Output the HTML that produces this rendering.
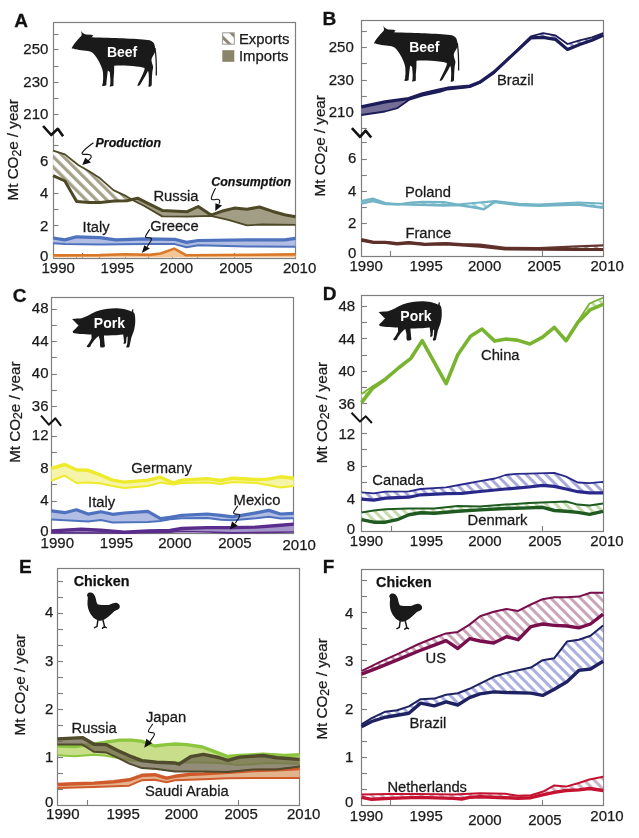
<!DOCTYPE html>
<html><head><meta charset="utf-8"><style>
html,body{margin:0;padding:0;background:#fff;}
svg{display:block;font-family:"Liberation Sans", sans-serif;will-change:transform;}
text{stroke:#1a1a1a;stroke-width:0.25px;}
text[fill="#fff"]{stroke:none;}
</style></head><body>
<svg width="639" height="838" viewBox="0 0 639 838" xmlns="http://www.w3.org/2000/svg">
<defs><pattern id="hA" patternUnits="userSpaceOnUse" x="-1.75" y="0" width="7.3" height="7.3" patternTransform="rotate(-45)"><rect x="0" y="0" width="7.3" height="7.3" fill="#fff"/><rect x="0" y="0" width="3.2" height="7.3" fill="#a5a189"/></pattern><pattern id="hL" patternUnits="userSpaceOnUse" x="3.05" y="0" width="9.05" height="9.05" patternTransform="rotate(-45)"><rect x="0" y="0" width="9.05" height="9.05" fill="#fff"/><rect x="0" y="0" width="2.9" height="9.05" fill="#8a8468"/></pattern><pattern id="hBr" patternUnits="userSpaceOnUse" x="0.0" y="0" width="7.0" height="7.0" patternTransform="rotate(-45)"><rect x="0" y="0" width="7.0" height="7.0" fill="#fff"/><rect x="0" y="0" width="3.0" height="7.0" fill="#9294c4"/></pattern><pattern id="hPo" patternUnits="userSpaceOnUse" x="0.0" y="0" width="7.0" height="7.0" patternTransform="rotate(-45)"><rect x="0" y="0" width="7.0" height="7.0" fill="#fff"/><rect x="0" y="0" width="3.0" height="7.0" fill="#a8d8e4"/></pattern><pattern id="hFr" patternUnits="userSpaceOnUse" x="0.0" y="0" width="7.0" height="7.0" patternTransform="rotate(-45)"><rect x="0" y="0" width="7.0" height="7.0" fill="#fff"/><rect x="0" y="0" width="3.0" height="7.0" fill="#b99d97"/></pattern><pattern id="hGe" patternUnits="userSpaceOnUse" x="0.0" y="0" width="7.0" height="7.0" patternTransform="rotate(-45)"><rect x="0" y="0" width="7.0" height="7.0" fill="#fff"/><rect x="0" y="0" width="3.0" height="7.0" fill="#f4f0a0"/></pattern><pattern id="hCI" patternUnits="userSpaceOnUse" x="0.0" y="0" width="7.0" height="7.0" patternTransform="rotate(-45)"><rect x="0" y="0" width="7.0" height="7.0" fill="#fff"/><rect x="0" y="0" width="3.0" height="7.0" fill="#a9b8e4"/></pattern><pattern id="hMx" patternUnits="userSpaceOnUse" x="0.0" y="0" width="7.0" height="7.0" patternTransform="rotate(-45)"><rect x="0" y="0" width="7.0" height="7.0" fill="#fff"/><rect x="0" y="0" width="3.0" height="7.0" fill="#a596c9"/></pattern><pattern id="hCh" patternUnits="userSpaceOnUse" x="0.0" y="0" width="7.0" height="7.0" patternTransform="rotate(-45)"><rect x="0" y="0" width="7.0" height="7.0" fill="#fff"/><rect x="0" y="0" width="3.0" height="7.0" fill="#c2e0a2"/></pattern><pattern id="hCa" patternUnits="userSpaceOnUse" x="0.0" y="0" width="7.0" height="7.0" patternTransform="rotate(-45)"><rect x="0" y="0" width="7.0" height="7.0" fill="#fff"/><rect x="0" y="0" width="3.0" height="7.0" fill="#a9acd9"/></pattern><pattern id="hDk" patternUnits="userSpaceOnUse" x="0.0" y="0" width="7.0" height="7.0" patternTransform="rotate(-45)"><rect x="0" y="0" width="7.0" height="7.0" fill="#fff"/><rect x="0" y="0" width="3.0" height="7.0" fill="#c3dbab"/></pattern><pattern id="hSa" patternUnits="userSpaceOnUse" x="0.0" y="0" width="7.0" height="7.0" patternTransform="rotate(-45)"><rect x="0" y="0" width="7.0" height="7.0" fill="#fff"/><rect x="0" y="0" width="3.0" height="7.0" fill="#f0b188"/></pattern><pattern id="hJp" patternUnits="userSpaceOnUse" x="0.0" y="0" width="7.0" height="7.0" patternTransform="rotate(-45)"><rect x="0" y="0" width="7.0" height="7.0" fill="#fff"/><rect x="0" y="0" width="3.0" height="7.0" fill="#c9e39e"/></pattern><pattern id="hEr" patternUnits="userSpaceOnUse" x="0.0" y="0" width="7.0" height="7.0" patternTransform="rotate(-45)"><rect x="0" y="0" width="7.0" height="7.0" fill="#fff"/><rect x="0" y="0" width="3.0" height="7.0" fill="#8d8873"/></pattern><pattern id="hUS" patternUnits="userSpaceOnUse" x="0.0" y="0" width="7.0" height="7.0" patternTransform="rotate(-45)"><rect x="0" y="0" width="7.0" height="7.0" fill="#fff"/><rect x="0" y="0" width="3.0" height="7.0" fill="#c9a5b8"/></pattern><pattern id="hFB" patternUnits="userSpaceOnUse" x="0.0" y="0" width="7.0" height="7.0" patternTransform="rotate(-45)"><rect x="0" y="0" width="7.0" height="7.0" fill="#fff"/><rect x="0" y="0" width="3.0" height="7.0" fill="#aab0e0"/></pattern><pattern id="hNL" patternUnits="userSpaceOnUse" x="0.0" y="0" width="7.0" height="7.0" patternTransform="rotate(-45)"><rect x="0" y="0" width="7.0" height="7.0" fill="#fff"/><rect x="0" y="0" width="3.0" height="7.0" fill="#cbb5c5"/></pattern></defs>
<rect width="639" height="838" fill="#fff"/>
<text transform="translate(14.2,27) scale(1.09,1)" x="0" y="0" font-size="17.5" font-weight="bold" fill="#111">A</text>
<rect x="53.5" y="22.5" width="242.0" height="236.0" fill="none" stroke="#7e7e7e" stroke-width="1.2"/>
<line x1="53" y1="34.5" x2="58.5" y2="34.5" stroke="#7e7e7e" stroke-width="1.1"/>
<line x1="53" y1="49.5" x2="58.5" y2="49.5" stroke="#7e7e7e" stroke-width="1.1"/>
<line x1="53" y1="66.5" x2="58.5" y2="66.5" stroke="#7e7e7e" stroke-width="1.1"/>
<line x1="53" y1="82.5" x2="58.5" y2="82.5" stroke="#7e7e7e" stroke-width="1.1"/>
<line x1="53" y1="98.5" x2="58.5" y2="98.5" stroke="#7e7e7e" stroke-width="1.1"/>
<line x1="53" y1="114.5" x2="58.5" y2="114.5" stroke="#7e7e7e" stroke-width="1.1"/>
<line x1="53" y1="145.5" x2="58.5" y2="145.5" stroke="#7e7e7e" stroke-width="1.1"/>
<line x1="53" y1="161.5" x2="58.5" y2="161.5" stroke="#7e7e7e" stroke-width="1.1"/>
<line x1="53" y1="177.5" x2="58.5" y2="177.5" stroke="#7e7e7e" stroke-width="1.1"/>
<line x1="53" y1="193.5" x2="58.5" y2="193.5" stroke="#7e7e7e" stroke-width="1.1"/>
<line x1="53" y1="209.5" x2="58.5" y2="209.5" stroke="#7e7e7e" stroke-width="1.1"/>
<line x1="53" y1="225.5" x2="58.5" y2="225.5" stroke="#7e7e7e" stroke-width="1.1"/>
<line x1="53" y1="242.5" x2="58.5" y2="242.5" stroke="#7e7e7e" stroke-width="1.1"/>
<line x1="82.5" y1="258.5" x2="82.5" y2="253.0" stroke="#7e7e7e" stroke-width="1.1"/>
<line x1="234.5" y1="258.5" x2="234.5" y2="253.0" stroke="#7e7e7e" stroke-width="1.1"/>
<line x1="76.5" y1="258.5" x2="76.5" y2="255.5" stroke="#7e7e7e" stroke-width="1.1"/>
<line x1="99.5" y1="258.5" x2="99.5" y2="255.5" stroke="#7e7e7e" stroke-width="1.1"/>
<line x1="125.5" y1="258.5" x2="125.5" y2="255.5" stroke="#7e7e7e" stroke-width="1.1"/>
<line x1="148.5" y1="258.5" x2="148.5" y2="255.5" stroke="#7e7e7e" stroke-width="1.1"/>
<line x1="172.5" y1="258.5" x2="172.5" y2="255.5" stroke="#7e7e7e" stroke-width="1.1"/>
<line x1="197.5" y1="258.5" x2="197.5" y2="255.5" stroke="#7e7e7e" stroke-width="1.1"/>
<text x="48.400000000000006" y="54.45" font-size="15" text-anchor="end" font-weight="normal" font-style="normal" fill="#1a1a1a" >250</text>
<text x="48.400000000000006" y="86.7" font-size="15" text-anchor="end" font-weight="normal" font-style="normal" fill="#1a1a1a" >230</text>
<text x="48.400000000000006" y="119.10000000000001" font-size="15" text-anchor="end" font-weight="normal" font-style="normal" fill="#1a1a1a" >210</text>
<text x="48.400000000000006" y="166.2" font-size="15" text-anchor="end" font-weight="normal" font-style="normal" fill="#1a1a1a" >6</text>
<text x="48.400000000000006" y="198.0" font-size="15" text-anchor="end" font-weight="normal" font-style="normal" fill="#1a1a1a" >4</text>
<text x="48.400000000000006" y="230.5" font-size="15" text-anchor="end" font-weight="normal" font-style="normal" fill="#1a1a1a" >2</text>
<text x="48.400000000000006" y="261.2" font-size="15" text-anchor="end" font-weight="normal" font-style="normal" fill="#1a1a1a" >0</text>
<text x="58.2" y="273.1" font-size="15" text-anchor="middle" font-weight="normal" font-style="normal" fill="#1a1a1a" >1990</text>
<text x="117.3" y="273.1" font-size="15" text-anchor="middle" font-weight="normal" font-style="normal" fill="#1a1a1a" >1995</text>
<text x="176.5" y="273.1" font-size="15" text-anchor="middle" font-weight="normal" font-style="normal" fill="#1a1a1a" >2000</text>
<text x="236" y="273.1" font-size="15" text-anchor="middle" font-weight="normal" font-style="normal" fill="#1a1a1a" >2005</text>
<text x="299.6" y="273.1" font-size="15" text-anchor="middle" font-weight="normal" font-style="normal" fill="#1a1a1a" >2010</text>
<text transform="translate(18.0,149.8) rotate(-90)" font-size="15.2" text-anchor="middle" fill="#1a1a1a">Mt CO<tspan font-size="12.2" dy="2.6">2</tspan><tspan dy="-2.6">e / year</tspan></text>
<polyline points="43.1,126.0 51.2,135.0 57.8,128.8 63.1,136.2" fill="none" stroke="#111" stroke-width="2.6" stroke-linejoin="round" stroke-linecap="butt" stroke-linecap="round"/>
<g transform="translate(0,0)"><path d="M80.6,29.9 C81.4,32.0 83.2,33.8 85.8,34.4 L91.3,34.7 L93.4,35.6 L91.6,37.2 C102,37.6 115,38.0 122.6,38.3 C132,38.8 142,39.3 147.6,39.9 C150.5,40.2 152.6,41.2 153.8,43 C155,45.5 155.5,49 155.2,51.5 C154.5,54.5 152,56.5 151.5,59.3 C151.2,61.5 152.6,64.5 153.2,67 L152.3,72 L151.9,78.2 L151.7,85.2 C150.9,86.6 149.3,86.8 148.3,86.6 L148.7,84.5 L148.9,78.2 L148.6,73 L148.0,70.8 L145.6,75.5 L142.6,80.5 L140.3,84.5 C139.7,85.6 138.6,86.0 137.3,85.8 L137.7,84.6 L140.2,79.5 L142.6,74.5 L144.4,70 L144.6,68.0 C140,66.6 133,66.0 128.9,65.8 C124,65.6 119,65.2 114.2,65.8 L114.1,72 L113.5,79.8 L113.5,85.6 C112.6,86.5 111,86.5 109.6,86.4 L110.3,84.2 L110.4,79.8 L109.8,72 L107.8,70.6 L107.1,76.6 L106.5,82 L106.3,85.2 C105.2,86.0 103.4,86.0 101.8,85.8 L102.8,83.6 L103.2,78.2 L103.0,72.5 L102.4,69.8 C101.8,67.5 100.2,63.5 98.2,60.2 C96.5,57.3 94.5,54.6 92.2,52.6 C89.5,50.8 86.5,50.6 83.5,50.4 C80.5,50.2 77.5,49.8 75.6,49.3 C73.8,49 72.5,48.7 71.6,48.2 C72.4,46.5 74.5,43.5 76.8,40.8 C78.5,38.8 80.2,37.0 81.4,35.8 C81.9,34.2 81.6,32.2 80.6,29.9 Z" fill="#1a1a1a"/><path d="M155.0,48 C156.0,55 156.5,64 156.3,75.5" fill="none" stroke="#1a1a1a" stroke-width="1.3"/><text x="106.9" y="56.9" font-size="14" font-weight="bold" fill="#fff">Beef</text></g>
<rect x="222.6" y="32.8" width="11.7" height="11.4" fill="url(#hL)" stroke="#9a9a9a" stroke-width="1"/>
<rect x="222.3" y="50.2" width="12.0" height="11.6" fill="#8a8468"/>
<text x="238.9" y="43.6" font-size="14.9" text-anchor="start" font-weight="normal" font-style="normal" fill="#1a1a1a" >Exports</text>
<text x="238.9" y="60.9" font-size="14.9" text-anchor="start" font-weight="normal" font-style="normal" fill="#1a1a1a" >Imports</text>
<polygon points="53.1,257.0 100.0,257.0 125.0,257.0 150.0,257.0 160.6,257.0 174.3,257.0 186.0,257.0 295.5,257.0 295.5,254.4 186.0,255.2 174.3,248.6 160.6,253.5 150.0,254.9 125.0,254.3 100.0,255.1 53.1,255.4" fill="#f3c594" />
<polyline points="53.1,257.0 295.5,257.0" fill="none" stroke="#f3c594" stroke-width="0.8" stroke-linejoin="round" stroke-linecap="butt" />
<polyline points="53.1,255.4 100.0,255.1 125.0,254.3 150.0,254.9 160.6,253.5 174.3,248.6 186.0,255.2 295.5,254.4" fill="none" stroke="#d9782a" stroke-width="2.6" stroke-linejoin="round" stroke-linecap="butt" />
<polygon points="53.1,243.3 64.9,244.1 65.0,244.1 76.6,244.3 100.0,244.6 115.7,244.4 145.0,244.1 174.7,244.1 186.5,247.2 198.2,245.2 247.0,246.4 284.5,246.6 295.5,246.7 295.5,238.3 284.5,239.9 247.0,239.9 198.2,240.5 186.5,242.4 174.7,239.3 145.0,238.8 115.7,239.9 100.0,237.7 76.6,236.8 65.0,239.9 64.9,239.9 53.1,238.0" fill="#b1bde2" />
<polyline points="53.1,243.3 65.0,244.1 100.0,244.6 145.0,244.1 174.7,244.1 186.5,247.2 198.2,245.2 247.0,246.4 295.5,246.7" fill="none" stroke="#4f72bf" stroke-width="2.0" stroke-linejoin="round" stroke-linecap="butt" />
<polyline points="53.1,238.0 64.9,239.9 76.6,236.8 100.0,237.7 115.7,239.9 145.0,238.8 174.7,239.3 186.5,242.4 198.2,240.5 247.0,239.9 284.5,239.9 295.5,238.3" fill="none" stroke="#4f72bf" stroke-width="3.2" stroke-linejoin="round" stroke-linecap="butt" />
<polygon points="53.1,150.6 64.9,154.4 76.6,163.7 78.2,165.0 89.1,171.3 100.1,178.3 113.4,190.1 114.2,190.5 125.1,195.6 126.7,196.6 131.7,199.6 131.7,199.6 126.7,200.8 125.1,200.8 114.2,201.1 113.4,201.2 100.1,202.6 89.1,202.6 78.2,201.6 76.6,201.5 64.9,181.0 53.1,175.7" fill="url(#hA)" />
<polygon points="131.7,199.6 132.9,200.3 137.6,202.6 143.9,205.7 145.0,206.3 162.2,216.4 187.3,216.7 198.2,216.3 210.7,215.9 211.0,216.0 223.5,218.8 228.2,219.8 234.4,221.6 247.0,225.3 259.5,224.7 262.6,224.5 272.0,224.6 284.5,224.7 295.5,224.8 295.5,216.7 284.5,214.8 272.0,211.2 262.6,208.0 259.5,207.0 247.0,209.2 234.4,208.1 228.2,209.6 223.5,210.7 211.0,215.1 210.7,214.9 198.2,206.5 187.3,211.7 162.2,210.4 145.0,201.8 143.9,201.3 137.6,198.2 132.9,199.3 131.7,199.6" fill="#a29d85" />
<polyline points="53.1,150.6 64.9,154.4 78.2,165.0 89.1,171.3 100.1,178.3 113.4,190.1 125.1,195.6 132.9,200.3 143.9,205.7 162.2,216.4 187.3,216.7 210.7,215.9 228.2,219.8 247.0,225.3 262.6,224.5 295.5,224.8" fill="none" stroke="#4d4926" stroke-width="1.8" stroke-linejoin="round" stroke-linecap="butt" />
<polyline points="53.1,175.7 64.9,181.0 76.6,201.5 89.1,202.6 100.1,202.6 114.2,201.1 126.7,200.8 137.6,198.2 145.0,201.8 162.2,210.4 187.3,211.7 198.2,206.5 211.0,215.1 223.5,210.7 234.4,208.1 247.0,209.2 259.5,207.0 272.0,211.2 284.5,214.8 295.5,216.7" fill="none" stroke="#4d4926" stroke-width="3.0" stroke-linejoin="round" stroke-linecap="butt" />
<text x="95.6" y="146.9" font-size="12.4" text-anchor="start" font-weight="bold" font-style="italic" fill="#111" >Production</text>
<text x="211.3" y="185.7" font-size="12.4" text-anchor="start" font-weight="bold" font-style="italic" fill="#111" >Consumption</text>
<text transform="translate(153.40,200.50) scale(1.07,1)" font-size="13.8" font-weight="normal" fill="#1a1a1a">Russia</text>
<text transform="translate(150.30,230.60) scale(1.07,1)" font-size="13.8" font-weight="normal" fill="#1a1a1a">Greece</text>
<text transform="translate(82.60,231.80) scale(1.07,1)" font-size="13.8" font-weight="normal" fill="#1a1a1a">Italy</text>
<path d="M93.4,142.8 C89,146 84,150 82.3,152.6 C81,155 84.5,154.3 87.5,154.4 C91.5,154.5 92,156.5 90.5,158.5 L87.6,161.3" fill="none" stroke="#111" stroke-width="1.1"/>
<polygon points="82.2,164.9 85.3,157.8 91.0,162.6" fill="#111" />
<text transform="translate(322.6,24.8) scale(1.09,1)" x="0" y="0" font-size="17.5" font-weight="bold" fill="#111">B</text>
<rect x="361.5" y="20.5" width="242.0" height="236.0" fill="none" stroke="#7e7e7e" stroke-width="1.2"/>
<line x1="361.3" y1="31.5" x2="366.8" y2="31.5" stroke="#7e7e7e" stroke-width="1.1"/>
<line x1="361.3" y1="47.5" x2="366.8" y2="47.5" stroke="#7e7e7e" stroke-width="1.1"/>
<line x1="361.3" y1="63.5" x2="366.8" y2="63.5" stroke="#7e7e7e" stroke-width="1.1"/>
<line x1="361.3" y1="80.5" x2="366.8" y2="80.5" stroke="#7e7e7e" stroke-width="1.1"/>
<line x1="361.3" y1="96.5" x2="366.8" y2="96.5" stroke="#7e7e7e" stroke-width="1.1"/>
<line x1="361.3" y1="112.5" x2="366.8" y2="112.5" stroke="#7e7e7e" stroke-width="1.1"/>
<line x1="361.3" y1="128.5" x2="366.8" y2="128.5" stroke="#7e7e7e" stroke-width="1.1"/>
<line x1="361.3" y1="142.5" x2="366.8" y2="142.5" stroke="#7e7e7e" stroke-width="1.1"/>
<line x1="361.3" y1="159.5" x2="366.8" y2="159.5" stroke="#7e7e7e" stroke-width="1.1"/>
<line x1="361.3" y1="175.5" x2="366.8" y2="175.5" stroke="#7e7e7e" stroke-width="1.1"/>
<line x1="361.3" y1="191.5" x2="366.8" y2="191.5" stroke="#7e7e7e" stroke-width="1.1"/>
<line x1="361.3" y1="207.5" x2="366.8" y2="207.5" stroke="#7e7e7e" stroke-width="1.1"/>
<line x1="361.3" y1="223.5" x2="366.8" y2="223.5" stroke="#7e7e7e" stroke-width="1.1"/>
<line x1="361.3" y1="239.5" x2="366.8" y2="239.5" stroke="#7e7e7e" stroke-width="1.1"/>
<line x1="390.5" y1="256.5" x2="390.5" y2="251.0" stroke="#7e7e7e" stroke-width="1.1"/>
<line x1="542.5" y1="256.5" x2="542.5" y2="251.0" stroke="#7e7e7e" stroke-width="1.1"/>
<text x="353.8" y="52.2" font-size="15" text-anchor="end" font-weight="normal" font-style="normal" fill="#1a1a1a" >250</text>
<text x="353.8" y="84.7" font-size="15" text-anchor="end" font-weight="normal" font-style="normal" fill="#1a1a1a" >230</text>
<text x="353.8" y="117.2" font-size="15" text-anchor="end" font-weight="normal" font-style="normal" fill="#1a1a1a" >210</text>
<text x="356.4" y="163.29999999999998" font-size="15" text-anchor="end" font-weight="normal" font-style="normal" fill="#1a1a1a" >6</text>
<text x="356.4" y="195.5" font-size="15" text-anchor="end" font-weight="normal" font-style="normal" fill="#1a1a1a" >4</text>
<text x="356.4" y="227.6" font-size="15" text-anchor="end" font-weight="normal" font-style="normal" fill="#1a1a1a" >2</text>
<text x="356.4" y="257.9" font-size="15" text-anchor="end" font-weight="normal" font-style="normal" fill="#1a1a1a" >0</text>
<text x="366.2" y="270.7" font-size="15" text-anchor="middle" font-weight="normal" font-style="normal" fill="#1a1a1a" >1990</text>
<text x="426.1" y="270.7" font-size="15" text-anchor="middle" font-weight="normal" font-style="normal" fill="#1a1a1a" >1995</text>
<text x="484.6" y="270.7" font-size="15" text-anchor="middle" font-weight="normal" font-style="normal" fill="#1a1a1a" >2000</text>
<text x="544.3" y="270.7" font-size="15" text-anchor="middle" font-weight="normal" font-style="normal" fill="#1a1a1a" >2005</text>
<text x="607.2" y="270.7" font-size="15" text-anchor="middle" font-weight="normal" font-style="normal" fill="#1a1a1a" >2010</text>
<text transform="translate(324.59999999999997,145.8) rotate(-90)" font-size="15.2" text-anchor="middle" fill="#1a1a1a">Mt CO<tspan font-size="12.2" dy="2.6">2</tspan><tspan dy="-2.6">e / year</tspan></text>
<polyline points="351.9,128.1 360.0,136.9 365.6,130.6 371.2,137.5" fill="none" stroke="#111" stroke-width="2.6" stroke-linejoin="round" stroke-linecap="butt" stroke-linecap="round"/>
<g transform="translate(302.3,-5)"><path d="M80.6,29.9 C81.4,32.0 83.2,33.8 85.8,34.4 L91.3,34.7 L93.4,35.6 L91.6,37.2 C102,37.6 115,38.0 122.6,38.3 C132,38.8 142,39.3 147.6,39.9 C150.5,40.2 152.6,41.2 153.8,43 C155,45.5 155.5,49 155.2,51.5 C154.5,54.5 152,56.5 151.5,59.3 C151.2,61.5 152.6,64.5 153.2,67 L152.3,72 L151.9,78.2 L151.7,85.2 C150.9,86.6 149.3,86.8 148.3,86.6 L148.7,84.5 L148.9,78.2 L148.6,73 L148.0,70.8 L145.6,75.5 L142.6,80.5 L140.3,84.5 C139.7,85.6 138.6,86.0 137.3,85.8 L137.7,84.6 L140.2,79.5 L142.6,74.5 L144.4,70 L144.6,68.0 C140,66.6 133,66.0 128.9,65.8 C124,65.6 119,65.2 114.2,65.8 L114.1,72 L113.5,79.8 L113.5,85.6 C112.6,86.5 111,86.5 109.6,86.4 L110.3,84.2 L110.4,79.8 L109.8,72 L107.8,70.6 L107.1,76.6 L106.5,82 L106.3,85.2 C105.2,86.0 103.4,86.0 101.8,85.8 L102.8,83.6 L103.2,78.2 L103.0,72.5 L102.4,69.8 C101.8,67.5 100.2,63.5 98.2,60.2 C96.5,57.3 94.5,54.6 92.2,52.6 C89.5,50.8 86.5,50.6 83.5,50.4 C80.5,50.2 77.5,49.8 75.6,49.3 C73.8,49 72.5,48.7 71.6,48.2 C72.4,46.5 74.5,43.5 76.8,40.8 C78.5,38.8 80.2,37.0 81.4,35.8 C81.9,34.2 81.6,32.2 80.6,29.9 Z" fill="#1a1a1a"/><path d="M155.0,48 C156.0,55 156.5,64 156.3,75.5" fill="none" stroke="#1a1a1a" stroke-width="1.3"/><text x="106.9" y="56.9" font-size="14" font-weight="bold" fill="#fff">Beef</text></g>
<polygon points="361.3,239.2 373.7,241.8 385.4,241.8 397.2,243.2 408.9,242.2 424.6,243.8 446.1,243.2 461.7,244.2 480.0,244.6 505.4,247.9 538.7,248.1 577.8,246.3 603.2,245.3 603.2,249.6 577.8,249.5 538.7,249.3 505.4,249.0 480.0,246.3 461.7,245.0 446.1,244.0 424.6,244.6 408.9,243.0 397.2,244.0 385.4,242.6 373.7,242.6 361.3,240.2" fill="url(#hFr)" />
<polyline points="361.3,239.2 373.7,241.8 385.4,241.8 397.2,243.2 408.9,242.2 424.6,243.8 446.1,243.2 461.7,244.2 480.0,244.6 505.4,247.9 538.7,248.1 577.8,246.3 603.2,245.3" fill="none" stroke="#653631" stroke-width="2.2" stroke-linejoin="round" stroke-linecap="butt" />
<polyline points="361.3,240.2 373.7,242.6 385.4,242.6 397.2,244.0 408.9,243.0 424.6,244.6 446.1,244.0 461.7,245.0 480.0,246.3 505.4,249.0 538.7,249.3 577.8,249.5 603.2,249.6" fill="none" stroke="#5e2e28" stroke-width="3.0" stroke-linejoin="round" stroke-linecap="butt" />
<polygon points="361.3,201.1 372.7,198.6 385.4,203.1 393.8,204.1 393.8,204.1 385.4,203.9 372.7,201.1 361.3,203.5" fill="url(#hPo)" />
<polygon points="393.8,204.1 397.2,204.5 399.1,204.2 399.1,204.2 397.2,204.2 393.8,204.1" fill="#a8d8e4" />
<polygon points="399.1,204.2 410.9,202.5 422.6,201.9 444.1,202.1 457.8,204.5 470.0,203.4 480.0,202.5 483.9,202.1 494.7,201.1 519.1,203.9 538.7,204.5 577.8,202.5 603.2,203.5 603.2,207.6 577.8,204.5 538.7,205.8 519.1,205.0 494.7,201.9 483.9,209.3 480.0,208.4 470.0,206.8 457.8,205.0 444.1,205.4 422.6,204.8 410.9,204.5 399.1,204.2" fill="url(#hPo)" />
<polyline points="361.3,201.1 372.7,198.6 385.4,203.1 397.2,204.5 410.9,202.5 422.6,201.9 444.1,202.1 457.8,204.5 480.0,202.5 494.7,201.1 519.1,203.9 538.7,204.5 577.8,202.5 603.2,203.5" fill="none" stroke="#72b4c6" stroke-width="2.2" stroke-linejoin="round" stroke-linecap="butt" />
<polyline points="361.3,203.5 372.7,201.1 385.4,203.9 410.9,204.5 444.1,205.4 457.8,205.0 470.0,206.8 480.0,208.4 483.9,209.3 494.7,201.9 519.1,205.0 538.7,205.8 577.8,204.5 603.2,207.6" fill="none" stroke="#72b4c6" stroke-width="2.6" stroke-linejoin="round" stroke-linecap="butt" />
<polygon points="361.3,115.0 385.0,111.5 397.5,108.1 408.8,100.0 422.5,95.6 439.9,91.9 447.5,89.5 469.9,87.1 480.0,83.0 494.2,72.9 508.3,58.8 508.3,58.8 494.2,71.9 480.0,82.0 469.9,86.1 447.5,88.2 439.9,89.8 422.5,93.8 408.8,98.5 397.5,100.1 385.0,101.9 361.3,106.9" fill="#746e96" />
<polygon points="508.3,58.8 530.9,36.3 543.1,33.2 555.3,35.3 567.5,44.0 579.7,40.3 591.9,37.3 603.2,33.2 603.2,35.3 591.9,40.3 579.7,44.4 567.5,49.5 555.3,39.3 543.1,37.3 530.9,37.9 508.3,58.8" fill="url(#hBr)" />
<polyline points="361.3,115.0 385.0,111.5 397.5,108.1 408.8,100.0 422.5,95.6 439.9,91.9 447.5,89.5 469.9,87.1 480.0,83.0 494.2,72.9 530.9,36.3 543.1,33.2 555.3,35.3 567.5,44.0 579.7,40.3 591.9,37.3 603.2,33.2" fill="none" stroke="#1c1c58" stroke-width="1.8" stroke-linejoin="round" stroke-linecap="butt" />
<polyline points="361.3,106.9 385.0,101.9 408.8,98.5 422.5,93.8 439.9,89.8 447.5,88.2 469.9,86.1 480.0,82.0 494.2,71.9 530.9,37.9 543.1,37.3 555.3,39.3 567.5,49.5 579.7,44.4 591.9,40.3 603.2,35.3" fill="none" stroke="#1c1c58" stroke-width="3.2" stroke-linejoin="round" stroke-linecap="butt" />
<text transform="translate(496.90,85.40) scale(1.07,1)" font-size="13.8" font-weight="normal" fill="#1a1a1a">Brazil</text>
<text transform="translate(405.00,196.50) scale(1.07,1)" font-size="13.8" font-weight="normal" fill="#1a1a1a">Poland</text>
<text transform="translate(405.40,237.60) scale(1.07,1)" font-size="13.8" font-weight="normal" fill="#1a1a1a">France</text>
<text transform="translate(12.8,302.3) scale(1.09,1)" x="0" y="0" font-size="17.5" font-weight="bold" fill="#111">C</text>
<rect x="51.5" y="297.5" width="242.0" height="236.0" fill="none" stroke="#7e7e7e" stroke-width="1.2"/>
<line x1="51.3" y1="309.5" x2="56.8" y2="309.5" stroke="#7e7e7e" stroke-width="1.1"/>
<line x1="51.3" y1="325.5" x2="56.8" y2="325.5" stroke="#7e7e7e" stroke-width="1.1"/>
<line x1="51.3" y1="341.5" x2="56.8" y2="341.5" stroke="#7e7e7e" stroke-width="1.1"/>
<line x1="51.3" y1="357.5" x2="56.8" y2="357.5" stroke="#7e7e7e" stroke-width="1.1"/>
<line x1="51.3" y1="374.5" x2="56.8" y2="374.5" stroke="#7e7e7e" stroke-width="1.1"/>
<line x1="51.3" y1="390.5" x2="56.8" y2="390.5" stroke="#7e7e7e" stroke-width="1.1"/>
<line x1="51.3" y1="406.5" x2="56.8" y2="406.5" stroke="#7e7e7e" stroke-width="1.1"/>
<line x1="51.3" y1="436.5" x2="56.8" y2="436.5" stroke="#7e7e7e" stroke-width="1.1"/>
<line x1="51.3" y1="452.5" x2="56.8" y2="452.5" stroke="#7e7e7e" stroke-width="1.1"/>
<line x1="51.3" y1="468.5" x2="56.8" y2="468.5" stroke="#7e7e7e" stroke-width="1.1"/>
<line x1="51.3" y1="484.5" x2="56.8" y2="484.5" stroke="#7e7e7e" stroke-width="1.1"/>
<line x1="51.3" y1="501.5" x2="56.8" y2="501.5" stroke="#7e7e7e" stroke-width="1.1"/>
<line x1="51.3" y1="517.5" x2="56.8" y2="517.5" stroke="#7e7e7e" stroke-width="1.1"/>
<line x1="81.5" y1="533.5" x2="81.5" y2="528.0" stroke="#7e7e7e" stroke-width="1.1"/>
<line x1="232.5" y1="533.5" x2="232.5" y2="528.0" stroke="#7e7e7e" stroke-width="1.1"/>
<text x="48.5" y="312.9" font-size="15" text-anchor="end" font-weight="normal" font-style="normal" fill="#1a1a1a" >48</text>
<text x="48.5" y="345.7" font-size="15" text-anchor="end" font-weight="normal" font-style="normal" fill="#1a1a1a" >44</text>
<text x="48.5" y="378.09999999999997" font-size="15" text-anchor="end" font-weight="normal" font-style="normal" fill="#1a1a1a" >40</text>
<text x="48.5" y="410.5" font-size="15" text-anchor="end" font-weight="normal" font-style="normal" fill="#1a1a1a" >36</text>
<text x="48.5" y="440.2" font-size="15" text-anchor="end" font-weight="normal" font-style="normal" fill="#1a1a1a" >12</text>
<text x="48.5" y="472.7" font-size="15" text-anchor="end" font-weight="normal" font-style="normal" fill="#1a1a1a" >8</text>
<text x="48.5" y="505.2" font-size="15" text-anchor="end" font-weight="normal" font-style="normal" fill="#1a1a1a" >4</text>
<text x="48.5" y="535.9000000000001" font-size="15" text-anchor="end" font-weight="normal" font-style="normal" fill="#1a1a1a" >0</text>
<text x="57.3" y="548.0" font-size="15" text-anchor="middle" font-weight="normal" font-style="normal" fill="#1a1a1a" >1990</text>
<text x="116.5" y="548.0" font-size="15" text-anchor="middle" font-weight="normal" font-style="normal" fill="#1a1a1a" >1995</text>
<text x="174.9" y="548.0" font-size="15" text-anchor="middle" font-weight="normal" font-style="normal" fill="#1a1a1a" >2000</text>
<text x="234.9" y="548.0" font-size="15" text-anchor="middle" font-weight="normal" font-style="normal" fill="#1a1a1a" >2005</text>
<text x="299.2" y="550.0" font-size="15" text-anchor="middle" font-weight="normal" font-style="normal" fill="#1a1a1a" >2010</text>
<text transform="translate(19.8,412.2) rotate(-90)" font-size="15.2" text-anchor="middle" fill="#1a1a1a">Mt CO<tspan font-size="12.2" dy="2.6">2</tspan><tspan dy="-2.6">e / year</tspan></text>
<polyline points="41.0,415.7 48.8,424.7 55.4,418.3 61.1,425.9" fill="none" stroke="#111" stroke-width="2.0" stroke-linejoin="round" stroke-linecap="butt" stroke-linecap="round"/>
<g transform="translate(0,0)"><path d="M72.0,319.0 C76,318.5 79,318.6 81.5,318.2 C86,316.8 90,314.5 96,311.5 C103,309 110,308.2 117,308.3 C124,308.7 128.5,310 131.6,311.8 L132.3,309.2 L133.4,309.6 L133.2,312 L134.5,313.4 C135.8,318 135.5,326 133.6,331.5 L131.4,337.5 L130.0,343.8 L129.5,346.5 C129.2,347.4 127.6,347.7 126.6,347.4 C126.0,347.0 126.5,345.8 127.2,344.2 L127.6,340 L127.6,336.5 L126.6,337 L126.3,340 L126.0,343 C125.6,343.8 124.4,343.9 123.4,343.4 L124.0,341.5 L123.6,337.5 L123.2,334.6 C118,335.2 110,335.8 103.9,335.4 L104.2,339.5 L104.6,343.8 L105.0,346.2 C104.2,347.6 102.2,347.7 100.6,347.4 L100.0,345.8 L100.0,341 L98.8,336.0 L96.8,337.4 L94.2,340.2 L91.2,344.6 L90.4,346.6 C89.2,347.7 87.4,347.6 86.6,346.6 C87.2,345.2 88.4,344.2 89.2,342.8 L91.6,338.6 L91.4,334.6 C88,334.2 84,334.0 80,333.9 C77,333.8 75,333.4 73.2,333.0 L72.6,331.4 C74.5,329.5 77,327 78.6,325.4 C76.5,323.5 74,321 72.0,319.0 Z" fill="#1a1a1a"/><text x="93.8" y="328.0" font-size="14" font-weight="bold" fill="#fff">Pork</text></g>
<polygon points="51.3,532.8 81.3,532.9 100.9,532.9 124.3,533.0 147.8,532.6 170.0,532.2 181.7,531.5 207.2,532.0 232.6,532.9 256.0,532.6 280.5,532.2 293.8,532.0 293.8,524.1 280.5,525.2 256.0,527.1 232.6,527.6 207.2,527.6 181.7,528.5 170.0,530.5 147.8,530.9 124.3,532.3 100.9,530.3 81.3,529.3 51.3,530.9" fill="#a596c9" />
<polyline points="51.3,532.8 124.3,533.0 170.0,532.2 181.7,531.5 207.2,532.0 232.6,532.9 293.8,532.0" fill="none" stroke="#5a2d8c" stroke-width="1.6" stroke-linejoin="round" stroke-linecap="butt" />
<polyline points="51.3,530.9 81.3,529.3 100.9,530.3 124.3,532.3 147.8,530.9 170.0,530.5 181.7,528.5 207.2,527.6 232.6,527.6 256.0,527.1 280.5,525.2 293.8,524.1" fill="none" stroke="#5a2d8c" stroke-width="3.4" stroke-linejoin="round" stroke-linecap="butt" />
<polygon points="51.3,519.6 64.7,520.2 76.4,520.9 88.1,521.5 100.9,520.1 112.6,522.5 124.3,522.3 147.8,521.9 160.5,521.1 170.0,519.2 181.7,518.2 207.2,517.9 220.9,519.8 232.6,520.2 256.1,518.2 268.8,516.7 280.5,518.6 293.8,518.2 293.8,513.4 280.5,514.0 268.8,510.4 256.1,512.8 232.6,516.9 220.9,515.3 207.2,514.0 181.7,515.3 170.0,517.3 160.5,518.6 147.8,511.3 124.3,513.0 112.6,514.3 100.9,511.7 88.1,514.1 76.4,509.8 64.7,512.7 51.3,510.8" fill="#b1bde2" />
<polyline points="51.3,519.6 64.7,520.2 88.1,521.5 100.9,520.1 112.6,522.5 147.8,521.9 160.5,521.1 170.0,519.2 181.7,518.2 207.2,517.9 220.9,519.8 232.6,520.2 256.1,518.2 268.8,516.7 280.5,518.6 293.8,518.2" fill="none" stroke="#4f72bf" stroke-width="2.0" stroke-linejoin="round" stroke-linecap="butt" />
<polyline points="51.3,510.8 64.7,512.7 76.4,509.8 88.1,514.1 100.9,511.7 112.6,514.3 124.3,513.0 147.8,511.3 160.5,518.6 170.0,517.3 181.7,515.3 207.2,514.0 220.9,515.3 232.6,516.9 256.1,512.8 268.8,510.4 280.5,514.0 293.8,513.4" fill="none" stroke="#4f72bf" stroke-width="3.2" stroke-linejoin="round" stroke-linecap="butt" />
<polygon points="51.3,480.7 64.7,475.6 76.4,483.0 88.1,482.6 100.9,483.4 112.6,486.0 124.3,487.9 136.1,487.0 147.8,486.0 160.5,482.6 173.2,484.4 181.7,483.1 207.2,482.5 220.9,484.0 232.6,482.1 256.1,483.1 267.8,485.0 280.5,487.6 293.8,486.0 293.8,478.2 280.5,476.8 267.8,479.1 256.1,479.5 232.6,478.2 220.9,480.5 207.2,478.6 181.7,480.1 173.2,483.1 160.5,477.2 147.8,480.1 136.1,481.1 124.3,482.1 112.6,480.1 100.9,475.2 88.1,470.3 76.4,469.7 64.7,464.5 51.3,468.4" fill="#f5f4a8" />
<polyline points="51.3,480.7 64.7,475.6 76.4,483.0 88.1,482.6 100.9,483.4 112.6,486.0 124.3,487.9 136.1,487.0 147.8,486.0 160.5,482.6 173.2,484.4 181.7,483.1 207.2,482.5 220.9,484.0 232.6,482.1 256.1,483.1 267.8,485.0 280.5,487.6 293.8,486.0" fill="none" stroke="#eeea2c" stroke-width="2.0" stroke-linejoin="round" stroke-linecap="butt" />
<polyline points="51.3,468.4 64.7,464.5 76.4,469.7 88.1,470.3 100.9,475.2 112.6,480.1 124.3,482.1 136.1,481.1 147.8,480.1 160.5,477.2 173.2,483.1 181.7,480.1 207.2,478.6 220.9,480.5 232.6,478.2 256.1,479.5 267.8,479.1 280.5,476.8 293.8,478.2" fill="none" stroke="#eeea2c" stroke-width="3.4" stroke-linejoin="round" stroke-linecap="butt" />
<text transform="translate(131.20,472.60) scale(1.07,1)" font-size="13.8" font-weight="normal" fill="#1a1a1a">Germany</text>
<text transform="translate(88.10,507.40) scale(1.07,1)" font-size="13.8" font-weight="normal" fill="#1a1a1a">Italy</text>
<text transform="translate(233.60,504.50) scale(1.07,1)" font-size="13.8" font-weight="normal" fill="#1a1a1a">Mexico</text>
<text transform="translate(322.7,299.6) scale(1.09,1)" x="0" y="0" font-size="17.5" font-weight="bold" fill="#111">D</text>
<rect x="361.5" y="295.5" width="242.0" height="236.0" fill="none" stroke="#7e7e7e" stroke-width="1.2"/>
<line x1="361.5" y1="306.5" x2="367.0" y2="306.5" stroke="#7e7e7e" stroke-width="1.1"/>
<line x1="361.5" y1="322.5" x2="367.0" y2="322.5" stroke="#7e7e7e" stroke-width="1.1"/>
<line x1="361.5" y1="338.5" x2="367.0" y2="338.5" stroke="#7e7e7e" stroke-width="1.1"/>
<line x1="361.5" y1="355.5" x2="367.0" y2="355.5" stroke="#7e7e7e" stroke-width="1.1"/>
<line x1="361.5" y1="371.5" x2="367.0" y2="371.5" stroke="#7e7e7e" stroke-width="1.1"/>
<line x1="361.5" y1="387.5" x2="367.0" y2="387.5" stroke="#7e7e7e" stroke-width="1.1"/>
<line x1="361.5" y1="403.5" x2="367.0" y2="403.5" stroke="#7e7e7e" stroke-width="1.1"/>
<line x1="361.5" y1="433.5" x2="367.0" y2="433.5" stroke="#7e7e7e" stroke-width="1.1"/>
<line x1="361.5" y1="449.5" x2="367.0" y2="449.5" stroke="#7e7e7e" stroke-width="1.1"/>
<line x1="361.5" y1="466.5" x2="367.0" y2="466.5" stroke="#7e7e7e" stroke-width="1.1"/>
<line x1="361.5" y1="482.5" x2="367.0" y2="482.5" stroke="#7e7e7e" stroke-width="1.1"/>
<line x1="361.5" y1="498.5" x2="367.0" y2="498.5" stroke="#7e7e7e" stroke-width="1.1"/>
<line x1="361.5" y1="514.5" x2="367.0" y2="514.5" stroke="#7e7e7e" stroke-width="1.1"/>
<line x1="391.5" y1="531.5" x2="391.5" y2="526.0" stroke="#7e7e7e" stroke-width="1.1"/>
<line x1="542.5" y1="531.5" x2="542.5" y2="526.0" stroke="#7e7e7e" stroke-width="1.1"/>
<text x="355.09999999999997" y="311.4" font-size="15" text-anchor="end" font-weight="normal" font-style="normal" fill="#1a1a1a" >48</text>
<text x="355.09999999999997" y="343.7" font-size="15" text-anchor="end" font-weight="normal" font-style="normal" fill="#1a1a1a" >44</text>
<text x="355.09999999999997" y="376.09999999999997" font-size="15" text-anchor="end" font-weight="normal" font-style="normal" fill="#1a1a1a" >40</text>
<text x="355.09999999999997" y="409.3" font-size="15" text-anchor="end" font-weight="normal" font-style="normal" fill="#1a1a1a" >36</text>
<text x="355.09999999999997" y="438.7" font-size="15" text-anchor="end" font-weight="normal" font-style="normal" fill="#1a1a1a" >12</text>
<text x="355.09999999999997" y="471.09999999999997" font-size="15" text-anchor="end" font-weight="normal" font-style="normal" fill="#1a1a1a" >8</text>
<text x="355.09999999999997" y="504.3" font-size="15" text-anchor="end" font-weight="normal" font-style="normal" fill="#1a1a1a" >4</text>
<text x="355.09999999999997" y="533.6" font-size="15" text-anchor="end" font-weight="normal" font-style="normal" fill="#1a1a1a" >0</text>
<text x="366.5" y="546.0" font-size="15" text-anchor="middle" font-weight="normal" font-style="normal" fill="#1a1a1a" >1990</text>
<text x="426.5" y="546.0" font-size="15" text-anchor="middle" font-weight="normal" font-style="normal" fill="#1a1a1a" >1995</text>
<text x="484.9" y="546.0" font-size="15" text-anchor="middle" font-weight="normal" font-style="normal" fill="#1a1a1a" >2000</text>
<text x="544.9" y="546.0" font-size="15" text-anchor="middle" font-weight="normal" font-style="normal" fill="#1a1a1a" >2005</text>
<text x="607" y="546.0" font-size="15" text-anchor="middle" font-weight="normal" font-style="normal" fill="#1a1a1a" >2010</text>
<text transform="translate(326.8,412.5) rotate(-90)" font-size="15.2" text-anchor="middle" fill="#1a1a1a">Mt CO<tspan font-size="12.2" dy="2.6">2</tspan><tspan dy="-2.6">e / year</tspan></text>
<polyline points="351.5,412.8 360.0,421.6 365.8,416.3 371.9,423.0" fill="none" stroke="#111" stroke-width="2.0" stroke-linejoin="round" stroke-linecap="butt" stroke-linecap="round"/>
<g transform="translate(306.5,-7)"><path d="M72.0,319.0 C76,318.5 79,318.6 81.5,318.2 C86,316.8 90,314.5 96,311.5 C103,309 110,308.2 117,308.3 C124,308.7 128.5,310 131.6,311.8 L132.3,309.2 L133.4,309.6 L133.2,312 L134.5,313.4 C135.8,318 135.5,326 133.6,331.5 L131.4,337.5 L130.0,343.8 L129.5,346.5 C129.2,347.4 127.6,347.7 126.6,347.4 C126.0,347.0 126.5,345.8 127.2,344.2 L127.6,340 L127.6,336.5 L126.6,337 L126.3,340 L126.0,343 C125.6,343.8 124.4,343.9 123.4,343.4 L124.0,341.5 L123.6,337.5 L123.2,334.6 C118,335.2 110,335.8 103.9,335.4 L104.2,339.5 L104.6,343.8 L105.0,346.2 C104.2,347.6 102.2,347.7 100.6,347.4 L100.0,345.8 L100.0,341 L98.8,336.0 L96.8,337.4 L94.2,340.2 L91.2,344.6 L90.4,346.6 C89.2,347.7 87.4,347.6 86.6,346.6 C87.2,345.2 88.4,344.2 89.2,342.8 L91.6,338.6 L91.4,334.6 C88,334.2 84,334.0 80,333.9 C77,333.8 75,333.4 73.2,333.0 L72.6,331.4 C74.5,329.5 77,327 78.6,325.4 C76.5,323.5 74,321 72.0,319.0 Z" fill="#1a1a1a"/><text x="93.8" y="328.0" font-size="14" font-weight="bold" fill="#fff">Pork</text></g>
<polygon points="361.5,512.4 373.7,510.5 385.4,509.3 397.2,508.9 408.9,508.5 420.6,508.5 434.3,508.5 457.8,506.0 480.0,506.6 505.4,504.6 528.9,503.0 542.6,502.5 554.3,502.1 566.1,501.5 577.8,504.6 589.5,505.4 603.0,503.4 603.0,511.3 589.5,514.4 577.8,512.4 566.1,511.3 554.3,510.5 542.6,507.3 528.9,507.9 505.4,508.5 480.0,509.9 457.8,511.3 434.3,513.2 420.6,512.8 408.9,514.8 397.2,519.7 385.4,522.2 373.7,522.2 361.5,519.7" fill="url(#hDk)" />
<polyline points="361.5,512.4 373.7,510.5 385.4,509.3 408.9,508.5 434.3,508.5 457.8,506.0 480.0,506.6 505.4,504.6 528.9,503.0 554.3,502.1 566.1,501.5 577.8,504.6 589.5,505.4 603.0,503.4" fill="none" stroke="#1f5a20" stroke-width="2.0" stroke-linejoin="round" stroke-linecap="butt" />
<polyline points="361.5,519.7 373.7,522.2 385.4,522.2 397.2,519.7 408.9,514.8 420.6,512.8 434.3,513.2 457.8,511.3 480.0,509.9 505.4,508.5 528.9,507.9 542.6,507.3 554.3,510.5 566.1,511.3 577.8,512.4 589.5,514.4 603.0,511.3" fill="none" stroke="#1f5a20" stroke-width="3.4" stroke-linejoin="round" stroke-linecap="butt" />
<polygon points="361.5,492.3 373.7,493.3 385.4,491.7 408.9,491.3 420.6,489.0 446.1,487.4 461.7,484.5 480.0,481.1 495.0,478.5 505.4,475.0 505.5,475.0 516.3,473.8 528.9,473.6 542.6,473.2 554.3,472.9 566.1,476.6 577.8,482.5 589.5,483.1 603.0,481.9 603.0,492.9 589.5,492.9 577.8,491.7 566.1,489.0 554.3,486.4 542.6,485.4 528.9,487.0 516.3,488.1 505.5,489.0 505.4,489.0 495.0,490.0 480.0,491.5 461.7,493.3 446.1,493.6 420.6,494.8 408.9,497.2 385.4,498.1 373.7,500.1 361.5,499.1" fill="url(#hCa)" />
<polyline points="361.5,492.3 373.7,493.3 385.4,491.7 408.9,491.3 420.6,489.0 446.1,487.4 461.7,484.5 480.0,481.1 495.0,478.5 505.5,475.0 516.3,473.8 528.9,473.6 554.3,472.9 566.1,476.6 577.8,482.5 589.5,483.1 603.0,481.9" fill="none" stroke="#29298c" stroke-width="1.8" stroke-linejoin="round" stroke-linecap="butt" />
<polyline points="361.5,499.1 373.7,500.1 385.4,498.1 408.9,497.2 420.6,494.8 446.1,493.6 461.7,493.3 480.0,491.5 505.4,489.0 528.9,487.0 542.6,485.4 554.3,486.4 566.1,489.0 577.8,491.7 589.5,492.9 603.0,492.9" fill="none" stroke="#29298c" stroke-width="3.2" stroke-linejoin="round" stroke-linecap="butt" />
<polygon points="361.5,394.0 372.7,386.3 385.4,378.5 399.1,367.0 410.9,358.0 422.2,340.5 446.1,383.5 457.8,354.5 470.5,336.0 482.0,328.8 494.7,340.9 506.4,338.9 517.2,339.9 529.9,343.8 542.6,337.0 554.3,327.2 566.1,340.5 577.8,321.5 589.5,303.6 590.5,303.1 597.4,300.0 603.0,297.9 603.0,304.4 597.4,306.7 590.5,309.6 589.5,310.6 577.8,322.5 566.1,340.7 554.3,327.4 542.6,337.2 529.9,344.0 517.2,340.1 506.4,339.1 494.7,341.1 482.0,329.0 470.5,336.2 457.8,354.8 446.1,383.7 422.2,340.7 410.9,358.3 399.1,367.5 385.4,379.2 372.7,388.2 361.5,402.6" fill="url(#hCh)" />
<polyline points="361.5,394.0 372.7,386.3 385.4,378.5 399.1,367.0 410.9,358.0 422.2,340.5 446.1,383.5 457.8,354.5 470.5,336.0 482.0,328.8 494.7,340.9 506.4,338.9 517.2,339.9 529.9,343.8 542.6,337.0 554.3,327.2 566.1,340.5 577.8,321.5 589.5,303.6 597.4,300.0 603.0,297.9" fill="none" stroke="#78b430" stroke-width="1.8" stroke-linejoin="round" stroke-linecap="butt" />
<polyline points="361.5,402.6 372.7,388.2 385.4,379.2 399.1,367.5 410.9,358.3 422.2,340.7 446.1,383.7 457.8,354.8 470.5,336.2 482.0,329.0 494.7,341.1 506.4,339.1 517.2,340.1 529.9,344.0 542.6,337.2 554.3,327.4 566.1,340.7 577.8,322.5 590.5,309.6 603.0,304.4" fill="none" stroke="#78b430" stroke-width="3.6" stroke-linejoin="round" stroke-linecap="butt" />
<text transform="translate(481.00,360.00) scale(1.07,1)" font-size="13.8" font-weight="normal" fill="#1a1a1a">China</text>
<text transform="translate(372.30,484.80) scale(1.07,1)" font-size="13.8" font-weight="normal" fill="#1a1a1a">Canada</text>
<text transform="translate(467.60,525.40) scale(1.07,1)" font-size="13.8" font-weight="normal" fill="#1a1a1a">Denmark</text>
<text transform="translate(18.9,573.4) scale(1.09,1)" x="0" y="0" font-size="17.5" font-weight="bold" fill="#111">E</text>
<rect x="57.5" y="568.5" width="242.0" height="237.0" fill="none" stroke="#7e7e7e" stroke-width="1.2"/>
<line x1="57.5" y1="581.5" x2="63.0" y2="581.5" stroke="#7e7e7e" stroke-width="1.1"/>
<line x1="57.5" y1="597.5" x2="63.0" y2="597.5" stroke="#7e7e7e" stroke-width="1.1"/>
<line x1="57.5" y1="613.5" x2="63.0" y2="613.5" stroke="#7e7e7e" stroke-width="1.1"/>
<line x1="57.5" y1="629.5" x2="63.0" y2="629.5" stroke="#7e7e7e" stroke-width="1.1"/>
<line x1="57.5" y1="645.5" x2="63.0" y2="645.5" stroke="#7e7e7e" stroke-width="1.1"/>
<line x1="57.5" y1="661.5" x2="63.0" y2="661.5" stroke="#7e7e7e" stroke-width="1.1"/>
<line x1="57.5" y1="677.5" x2="63.0" y2="677.5" stroke="#7e7e7e" stroke-width="1.1"/>
<line x1="57.5" y1="693.5" x2="63.0" y2="693.5" stroke="#7e7e7e" stroke-width="1.1"/>
<line x1="57.5" y1="709.5" x2="63.0" y2="709.5" stroke="#7e7e7e" stroke-width="1.1"/>
<line x1="57.5" y1="725.5" x2="63.0" y2="725.5" stroke="#7e7e7e" stroke-width="1.1"/>
<line x1="57.5" y1="741.5" x2="63.0" y2="741.5" stroke="#7e7e7e" stroke-width="1.1"/>
<line x1="57.5" y1="757.5" x2="63.0" y2="757.5" stroke="#7e7e7e" stroke-width="1.1"/>
<line x1="57.5" y1="773.5" x2="63.0" y2="773.5" stroke="#7e7e7e" stroke-width="1.1"/>
<line x1="57.5" y1="789.5" x2="63.0" y2="789.5" stroke="#7e7e7e" stroke-width="1.1"/>
<line x1="87.5" y1="805.5" x2="87.5" y2="800.0" stroke="#7e7e7e" stroke-width="1.1"/>
<line x1="238.5" y1="805.5" x2="238.5" y2="800.0" stroke="#7e7e7e" stroke-width="1.1"/>
<text x="53.400000000000006" y="617.4000000000001" font-size="15" text-anchor="end" font-weight="normal" font-style="normal" fill="#1a1a1a" >4</text>
<text x="53.400000000000006" y="665.6" font-size="15" text-anchor="end" font-weight="normal" font-style="normal" fill="#1a1a1a" >3</text>
<text x="53.400000000000006" y="713.6" font-size="15" text-anchor="end" font-weight="normal" font-style="normal" fill="#1a1a1a" >2</text>
<text x="53.400000000000006" y="761.7" font-size="15" text-anchor="end" font-weight="normal" font-style="normal" fill="#1a1a1a" >1</text>
<text x="53.400000000000006" y="807.2" font-size="15" text-anchor="end" font-weight="normal" font-style="normal" fill="#1a1a1a" >0</text>
<text x="62.8" y="819.2" font-size="15" text-anchor="middle" font-weight="normal" font-style="normal" fill="#1a1a1a" >1990</text>
<text x="123.1" y="819.2" font-size="15" text-anchor="middle" font-weight="normal" font-style="normal" fill="#1a1a1a" >1995</text>
<text x="181.4" y="819.2" font-size="15" text-anchor="middle" font-weight="normal" font-style="normal" fill="#1a1a1a" >2000</text>
<text x="241.1" y="819.2" font-size="15" text-anchor="middle" font-weight="normal" font-style="normal" fill="#1a1a1a" >2005</text>
<text x="303.7" y="819.2" font-size="15" text-anchor="middle" font-weight="normal" font-style="normal" fill="#1a1a1a" >2010</text>
<text transform="translate(25.0,684.8) rotate(-90)" font-size="15.2" text-anchor="middle" fill="#1a1a1a">Mt CO<tspan font-size="12.2" dy="2.6">2</tspan><tspan dy="-2.6">e / year</tspan></text>
<g transform="translate(0,0)"><path d="M86.9,595.2 C87.3,593.8 88.2,592.7 89.4,592.5 C91,592.2 92.6,592.8 93.4,593.8 C94.6,595 95.4,596.8 95.8,598.8 C96.2,601 96.6,603 97.6,604.2 C100,604.8 104,605 107,605.1 C109,605.2 110.8,604.4 112.3,603.6 C113.8,602.9 115.2,602.6 116.2,602.7 C118.2,602.9 119.7,604.4 119.8,606.3 C119.9,608 118.8,609.3 117.4,609.8 C116.2,610.3 115.2,610.6 114.6,611.0 C113,612.6 111.5,614 109.8,615.4 C108,617 106,618.5 104.3,619.6 C102.5,620.6 100.4,620.9 98.6,620.4 C96,619.8 93.6,618.2 91.9,615.8 C89.8,613.2 88.4,610.2 87.8,606.8 C87.3,603.8 87.5,600.5 87.8,598.5 C87.9,597.5 87.6,596.6 87.4,596.2 Z" fill="#1a1a1a"/><path d="M97.9,619.8 L97.4,623.5 L97.0,626.3 M97.1,626.4 L94.6,627.6 M103.0,620.3 L103.9,623.8 L104.5,626.6 M104.5,626.6 L102.5,628.2 M104.5,626.6 L106.2,627.6" fill="none" stroke="#1a1a1a" stroke-width="1.5" stroke-linecap="round"/><text x="73.8" y="586" font-size="14.3" font-weight="bold" fill="#111">Chicken</text></g>
<polygon points="57.5,788.0 74.6,787.5 94.1,787.0 113.7,786.3 129.3,785.7 142.0,780.2 154.8,779.8 166.5,782.2 175.0,780.2 190.6,779.7 203.4,779.2 227.8,778.2 253.2,777.9 276.7,777.9 299.6,777.9 299.6,768.5 276.7,769.8 253.2,770.6 227.8,772.4 203.4,773.9 190.6,774.3 175.0,776.3 166.5,778.2 154.8,774.7 142.0,775.3 129.3,779.8 113.7,781.8 94.1,783.1 74.6,783.7 57.5,784.5" fill="#e3b48c" />
<polyline points="57.5,788.0 94.1,787.0 129.3,785.7 142.0,780.2 154.8,779.8 166.5,782.2 175.0,780.2 203.4,779.2 227.8,778.2 253.2,777.9 299.6,777.9" fill="none" stroke="#cf5a2c" stroke-width="2.0" stroke-linejoin="round" stroke-linecap="butt" />
<polyline points="57.5,784.5 74.6,783.7 94.1,783.1 113.7,781.8 129.3,779.8 142.0,775.3 154.8,774.7 166.5,778.2 175.0,776.3 190.6,774.3 203.4,773.9 227.8,772.4 253.2,770.6 276.7,769.8 299.6,768.5" fill="none" stroke="#cf5a2c" stroke-width="3.4" stroke-linejoin="round" stroke-linecap="butt" />
<polygon points="57.5,755.2 74.6,756.3 94.1,754.8 105.9,755.8 119.6,758.3 131.3,760.6 141.1,761.2 150.0,761.8 154.8,761.9 166.5,762.3 175.0,762.5 186.7,762.5 200.0,762.5 202.4,762.6 214.1,762.9 220.0,763.1 227.8,763.9 238.8,765.0 239.6,764.9 263.0,763.5 270.0,763.1 284.5,763.4 299.6,763.7 299.6,754.8 284.5,755.5 270.0,754.6 263.0,754.2 239.6,755.5 238.8,755.6 227.8,756.5 220.0,753.5 214.1,751.3 202.4,747.0 200.0,746.6 186.7,744.6 175.0,744.0 166.5,744.6 154.8,746.0 150.0,744.3 141.1,741.1 131.3,740.1 119.6,740.1 105.9,742.1 94.1,744.0 74.6,746.6 57.5,746.0" fill="#c9de8a" />
<polyline points="57.5,755.2 74.6,756.3 94.1,754.8 105.9,755.8 119.6,758.3 131.3,760.6 150.0,761.8 175.0,762.5 200.0,762.5 220.0,763.1 238.8,765.0 270.0,763.1 299.6,763.7" fill="none" stroke="#8cc63e" stroke-width="2.0" stroke-linejoin="round" stroke-linecap="butt" />
<polyline points="57.5,746.0 74.6,746.6 94.1,744.0 105.9,742.1 119.6,740.1 131.3,740.1 141.1,741.1 154.8,746.0 166.5,744.6 175.0,744.0 186.7,744.6 202.4,747.0 214.1,751.3 227.8,756.5 239.6,755.5 263.0,754.2 284.5,755.5 299.6,754.8" fill="none" stroke="#8cc63e" stroke-width="3.4" stroke-linejoin="round" stroke-linecap="butt" />
<polygon points="57.5,744.6 82.4,744.6 94.1,751.8 105.9,752.4 117.6,757.7 129.3,763.6 142.0,768.1 156.7,768.9 175.0,771.4 178.9,771.4 190.6,771.4 203.4,771.4 204.3,771.4 219.0,771.8 227.8,772.0 239.6,770.8 253.2,769.4 263.0,769.4 276.7,769.4 299.6,766.5 299.6,759.4 276.7,757.7 263.0,755.5 253.2,756.2 239.6,757.1 227.8,760.3 219.0,757.5 204.3,754.6 203.4,754.4 190.6,756.7 178.9,764.2 175.0,763.0 156.7,762.2 142.0,760.6 129.3,755.8 117.6,750.5 105.9,744.6 94.1,744.2 82.4,737.6 57.5,738.9" fill="rgba(116,108,82,0.78)" />
<polyline points="57.5,744.6 82.4,744.6 94.1,751.8 105.9,752.4 117.6,757.7 129.3,763.6 142.0,768.1 156.7,768.9 175.0,771.4 204.3,771.4 227.8,772.0 253.2,769.4 276.7,769.4 299.6,766.5" fill="none" stroke="#4f4b2c" stroke-width="2.0" stroke-linejoin="round" stroke-linecap="butt" />
<polyline points="57.5,738.9 82.4,737.6 94.1,744.2 105.9,744.6 117.6,750.5 129.3,755.8 142.0,760.6 156.7,762.2 175.0,763.0 178.9,764.2 190.6,756.7 203.4,754.4 219.0,757.5 227.8,760.3 239.6,757.1 263.0,755.5 276.7,757.7 299.6,759.4" fill="none" stroke="#4f4b2c" stroke-width="3.4" stroke-linejoin="round" stroke-linecap="butt" />
<text transform="translate(71.60,732.60) scale(1.07,1)" font-size="13.8" font-weight="normal" fill="#1a1a1a">Russia</text>
<text transform="translate(145.90,721.80) scale(1.07,1)" font-size="13.8" font-weight="normal" fill="#1a1a1a">Japan</text>
<text transform="translate(145.00,796.20) scale(1.07,1)" font-size="13.8" font-weight="normal" fill="#1a1a1a">Saudi Arabia</text>
<text transform="translate(322.7,573.4) scale(1.09,1)" x="0" y="0" font-size="17.5" font-weight="bold" fill="#111">F</text>
<rect x="361.5" y="569.5" width="242.0" height="236.0" fill="none" stroke="#7e7e7e" stroke-width="1.2"/>
<line x1="361.5" y1="580.5" x2="367.0" y2="580.5" stroke="#7e7e7e" stroke-width="1.1"/>
<line x1="361.5" y1="596.5" x2="367.0" y2="596.5" stroke="#7e7e7e" stroke-width="1.1"/>
<line x1="361.5" y1="612.5" x2="367.0" y2="612.5" stroke="#7e7e7e" stroke-width="1.1"/>
<line x1="361.5" y1="628.5" x2="367.0" y2="628.5" stroke="#7e7e7e" stroke-width="1.1"/>
<line x1="361.5" y1="644.5" x2="367.0" y2="644.5" stroke="#7e7e7e" stroke-width="1.1"/>
<line x1="361.5" y1="660.5" x2="367.0" y2="660.5" stroke="#7e7e7e" stroke-width="1.1"/>
<line x1="361.5" y1="677.5" x2="367.0" y2="677.5" stroke="#7e7e7e" stroke-width="1.1"/>
<line x1="361.5" y1="693.5" x2="367.0" y2="693.5" stroke="#7e7e7e" stroke-width="1.1"/>
<line x1="361.5" y1="709.5" x2="367.0" y2="709.5" stroke="#7e7e7e" stroke-width="1.1"/>
<line x1="361.5" y1="725.5" x2="367.0" y2="725.5" stroke="#7e7e7e" stroke-width="1.1"/>
<line x1="361.5" y1="741.5" x2="367.0" y2="741.5" stroke="#7e7e7e" stroke-width="1.1"/>
<line x1="361.5" y1="757.5" x2="367.0" y2="757.5" stroke="#7e7e7e" stroke-width="1.1"/>
<line x1="361.5" y1="773.5" x2="367.0" y2="773.5" stroke="#7e7e7e" stroke-width="1.1"/>
<line x1="361.5" y1="789.5" x2="367.0" y2="789.5" stroke="#7e7e7e" stroke-width="1.1"/>
<line x1="390.5" y1="805.5" x2="390.5" y2="800.0" stroke="#7e7e7e" stroke-width="1.1"/>
<line x1="542.5" y1="805.5" x2="542.5" y2="800.0" stroke="#7e7e7e" stroke-width="1.1"/>
<text x="353.4" y="617.6" font-size="15" text-anchor="end" font-weight="normal" font-style="normal" fill="#1a1a1a" >4</text>
<text x="353.4" y="665.7" font-size="15" text-anchor="end" font-weight="normal" font-style="normal" fill="#1a1a1a" >3</text>
<text x="353.4" y="713.9000000000001" font-size="15" text-anchor="end" font-weight="normal" font-style="normal" fill="#1a1a1a" >2</text>
<text x="353.4" y="762.0" font-size="15" text-anchor="end" font-weight="normal" font-style="normal" fill="#1a1a1a" >1</text>
<text x="353.4" y="807.3000000000001" font-size="15" text-anchor="end" font-weight="normal" font-style="normal" fill="#1a1a1a" >0</text>
<text x="366.5" y="820.8" font-size="15" text-anchor="middle" font-weight="normal" font-style="normal" fill="#1a1a1a" >1990</text>
<text x="426.2" y="820.8" font-size="15" text-anchor="middle" font-weight="normal" font-style="normal" fill="#1a1a1a" >1995</text>
<text x="607" y="820.8" font-size="15" text-anchor="middle" font-weight="normal" font-style="normal" fill="#1a1a1a" >2010</text>
<text x="484.9" y="824.5" font-size="15" text-anchor="middle" font-weight="normal" font-style="normal" fill="#1a1a1a" >2000</text>
<text x="544.9" y="824.5" font-size="15" text-anchor="middle" font-weight="normal" font-style="normal" fill="#1a1a1a" >2005</text>
<text transform="translate(326.8,688.9) rotate(-90)" font-size="15.2" text-anchor="middle" fill="#1a1a1a">Mt CO<tspan font-size="12.2" dy="2.6">2</tspan><tspan dy="-2.6">e / year</tspan></text>
<g transform="translate(302.3,1)"><path d="M86.9,595.2 C87.3,593.8 88.2,592.7 89.4,592.5 C91,592.2 92.6,592.8 93.4,593.8 C94.6,595 95.4,596.8 95.8,598.8 C96.2,601 96.6,603 97.6,604.2 C100,604.8 104,605 107,605.1 C109,605.2 110.8,604.4 112.3,603.6 C113.8,602.9 115.2,602.6 116.2,602.7 C118.2,602.9 119.7,604.4 119.8,606.3 C119.9,608 118.8,609.3 117.4,609.8 C116.2,610.3 115.2,610.6 114.6,611.0 C113,612.6 111.5,614 109.8,615.4 C108,617 106,618.5 104.3,619.6 C102.5,620.6 100.4,620.9 98.6,620.4 C96,619.8 93.6,618.2 91.9,615.8 C89.8,613.2 88.4,610.2 87.8,606.8 C87.3,603.8 87.5,600.5 87.8,598.5 C87.9,597.5 87.6,596.6 87.4,596.2 Z" fill="#1a1a1a"/><path d="M97.9,619.8 L97.4,623.5 L97.0,626.3 M97.1,626.4 L94.6,627.6 M103.0,620.3 L103.9,623.8 L104.5,626.6 M104.5,626.6 L102.5,628.2 M104.5,626.6 L106.2,627.6" fill="none" stroke="#1a1a1a" stroke-width="1.5" stroke-linecap="round"/><text x="73.8" y="586" font-size="14.3" font-weight="bold" fill="#111">Chicken</text></g>
<polygon points="361.5,794.5 371.7,794.3 389.3,793.9 418.7,793.9 453.9,794.5 461.7,794.1 469.5,793.7 480.0,793.2 505.4,793.8 518.1,795.8 530.9,795.2 542.6,791.8 554.3,785.4 566.1,786.6 578.8,783.0 589.5,779.5 603.1,776.8 603.1,790.5 589.5,788.5 578.8,789.9 566.1,790.5 554.3,792.4 542.6,794.8 530.9,797.7 518.1,798.3 505.4,797.7 480.0,796.7 469.5,797.4 461.7,799.0 453.9,798.4 418.7,797.4 389.3,798.4 371.7,799.3 361.5,797.4" fill="url(#hNL)" />
<polyline points="361.5,794.5 389.3,793.9 418.7,793.9 453.9,794.5 480.0,793.2 505.4,793.8 518.1,795.8 530.9,795.2 542.6,791.8 554.3,785.4 566.1,786.6 578.8,783.0 589.5,779.5 603.1,776.8" fill="none" stroke="#c41230" stroke-width="2.0" stroke-linejoin="round" stroke-linecap="butt" />
<polyline points="361.5,797.4 371.7,799.3 389.3,798.4 418.7,797.4 453.9,798.4 461.7,799.0 469.5,797.4 480.0,796.7 505.4,797.7 518.1,798.3 530.9,797.7 542.6,794.8 554.3,792.4 566.1,790.5 578.8,789.9 589.5,788.5 603.1,790.5" fill="none" stroke="#c41230" stroke-width="3.4" stroke-linejoin="round" stroke-linecap="butt" />
<polygon points="361.5,724.3 371.7,718.1 385.4,711.7 397.2,710.3 408.9,706.4 420.6,699.2 434.3,698.6 446.1,694.7 457.8,693.3 469.5,688.8 480.0,683.7 493.7,676.8 506.4,672.9 530.9,667.6 542.6,660.2 554.3,658.2 567.0,641.6 578.8,639.7 590.5,635.8 603.1,625.4 603.1,661.2 590.5,669.0 578.8,670.4 567.0,681.7 554.3,689.2 542.6,695.4 530.9,693.1 506.4,692.5 493.7,691.9 480.0,693.9 469.5,697.6 457.8,705.0 446.1,701.9 434.3,705.8 420.6,703.1 408.9,713.3 397.2,715.2 385.4,717.2 371.7,721.5 361.5,726.7" fill="url(#hFB)" />
<polyline points="361.5,724.3 371.7,718.1 385.4,711.7 397.2,710.3 408.9,706.4 420.6,699.2 434.3,698.6 446.1,694.7 457.8,693.3 469.5,688.8 480.0,683.7 493.7,676.8 506.4,672.9 530.9,667.6 542.6,660.2 554.3,658.2 567.0,641.6 578.8,639.7 590.5,635.8 603.1,625.4" fill="none" stroke="#1f2262" stroke-width="2.0" stroke-linejoin="round" stroke-linecap="butt" />
<polyline points="361.5,726.7 371.7,721.5 385.4,717.2 397.2,715.2 408.9,713.3 420.6,703.1 434.3,705.8 446.1,701.9 457.8,705.0 469.5,697.6 480.0,693.9 493.7,691.9 506.4,692.5 530.9,693.1 542.6,695.4 554.3,689.2 567.0,681.7 578.8,670.4 590.5,669.0 603.1,661.2" fill="none" stroke="#1f2262" stroke-width="3.4" stroke-linejoin="round" stroke-linecap="butt" />
<polygon points="361.5,671.1 379.6,662.2 399.1,653.4 418.7,644.0 434.3,637.7 446.1,633.4 457.8,631.9 469.5,624.6 480.0,616.2 493.7,611.7 506.4,609.0 518.1,610.9 530.9,604.5 542.6,599.2 554.3,597.2 567.0,597.2 578.8,596.6 590.5,592.7 603.1,592.7 603.1,614.2 590.5,624.0 578.8,627.9 567.0,626.0 554.3,625.4 542.6,624.0 530.9,626.6 518.1,639.7 506.4,636.7 493.7,643.0 480.0,641.0 469.5,638.7 457.8,648.5 446.1,640.7 434.3,645.2 418.7,651.0 399.1,659.2 379.6,667.1 361.5,674.2" fill="url(#hUS)" />
<polyline points="361.5,671.1 379.6,662.2 399.1,653.4 418.7,644.0 434.3,637.7 446.1,633.4 457.8,631.9 469.5,624.6 480.0,616.2 493.7,611.7 506.4,609.0 518.1,610.9 530.9,604.5 542.6,599.2 554.3,597.2 567.0,597.2 578.8,596.6 590.5,592.7 603.1,592.7" fill="none" stroke="#780f4c" stroke-width="2.0" stroke-linejoin="round" stroke-linecap="butt" />
<polyline points="361.5,674.2 379.6,667.1 399.1,659.2 418.7,651.0 434.3,645.2 446.1,640.7 457.8,648.5 469.5,638.7 480.0,641.0 493.7,643.0 506.4,636.7 518.1,639.7 530.9,626.6 542.6,624.0 554.3,625.4 567.0,626.0 578.8,627.9 590.5,624.0 603.1,614.2" fill="none" stroke="#780f4c" stroke-width="3.4" stroke-linejoin="round" stroke-linecap="butt" />
<text transform="translate(425.50,662.90) scale(1.07,1)" font-size="13.8" font-weight="normal" fill="#1a1a1a">US</text>
<text transform="translate(409.50,727.60) scale(1.07,1)" font-size="13.8" font-weight="normal" fill="#1a1a1a">Brazil</text>
<text transform="translate(387.40,792.20) scale(1.07,1)" font-size="13.8" font-weight="normal" fill="#1a1a1a">Netherlands</text>
<path d="M215.3,188.4 C213.5,192 211.5,196 211.3,198.3 C211.2,200.6 214.5,199.6 217.2,199.3 C220,199.2 220.2,201.2 219.2,203.2" fill="none" stroke="#111" stroke-width="1.1" stroke-linecap="round"/>
<polygon points="215.3,211.0 215.4,203.2 222.0,205.4" fill="#111" />
<path d="M149.6,229.6 C148,232 145.8,235 145.5,236.6 C145.4,238 148.2,237.6 150.2,237.7 C152,237.9 151.6,239.4 150.8,241 L147.5,246.3" fill="none" stroke="#111" stroke-width="1.1" stroke-linecap="round"/>
<polygon points="141.8,253.0 144.3,245.3 149.9,248.5" fill="#111" />
<path d="M237.6,506.1 C236,508.5 233.8,511 233.6,512.6 C233.5,514.3 236.5,514.1 238.6,514.3 C240,514.6 239.8,516 239.2,517.2 L235.6,522.8" fill="none" stroke="#111" stroke-width="1.1" stroke-linecap="round"/>
<polygon points="229.9,529.4 232.0,521.5 237.7,525.7" fill="#111" />
<path d="M152.6,724.2 C151,726.5 148.6,729.5 148.4,731 C148.3,732.8 151.3,732.5 153.2,732.7 C154.8,733 154.5,734.6 153.8,736 L150.2,741.4" fill="none" stroke="#111" stroke-width="1.1" stroke-linecap="round"/>
<polygon points="144.2,747.7 146.4,738.8 152.2,743.3" fill="#111" />
</svg></body></html>
